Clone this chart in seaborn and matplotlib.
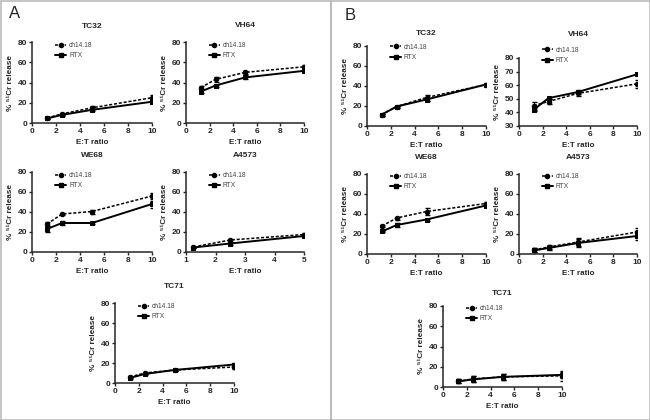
#51Cr release assays - ch14.18 vs RTX
import pandas as pd
import matplotlib.pyplot as plt
import seaborn as sns
from matplotlib.patches import Rectangle
from matplotlib.lines import Line2D

sns.set_style('ticks')
plt.rcParams['font.family'] = ['Liberation Sans', 'DejaVu Sans']

ratio = [1.25, 2.5, 5, 10]
ratio_short = [1.25, 2.5, 5]

# panel A
a_tc32_ch = [5, 9, 15, 25]
a_tc32_ch_err = [1, 1, 1.5, 3]
a_tc32_rtx = [4.5, 8, 13, 21]
a_tc32_rtx_err = [0.8, 0.8, 1, 1.5]
a_vh64_ch = [35, 43, 50, 55.5]
a_vh64_ch_err = [1.5, 2.5, 1.5, 1.5]
a_vh64_rtx = [31, 37, 45, 51.5]
a_vh64_rtx_err = [1.5, 1, 2, 1.5]
a_we68_ch = [28, 38, 40.5, 56]
a_we68_ch_err = [2, 1, 2, 3]
a_we68_rtx = [23, 29, 29, 48]
a_we68_rtx_err = [3, 2, 1, 3.5]
a_a4573_ch = [5, 12, 17.5]
a_a4573_ch_err = [0.5, 1.5, 1.5]
a_a4573_rtx = [4.5, 8.5, 16]
a_a4573_rtx_err = [0.5, 1.5, 1]
a_tc71_ch = [6, 10, 13, 16]
a_tc71_ch_err = [1, 1, 1, 2]
a_tc71_rtx = [5, 9, 13, 18.5]
a_tc71_rtx_err = [1, 1, 1, 1.5]

# panel B
b_tc32_ch = [11.5, 19.5, 28.5, 41.5]
b_tc32_ch_err = [1, 1, 3, 1.5]
b_tc32_rtx = [11.5, 19.5, 26.5, 41.5]
b_tc32_rtx_err = [1, 1, 1.5, 1]
b_vh64_ch = [45, 48, 54, 61]
b_vh64_ch_err = [3, 2, 2, 3]
b_vh64_rtx = [42, 50.5, 55, 68]
b_vh64_rtx_err = [1, 1, 1.5, 0.8]
b_we68_ch = [28, 36, 42.5, 50.5]
b_we68_ch_err = [1, 1.5, 3.5, 1.5]
b_we68_rtx = [22.5, 29, 34.5, 48.5]
b_we68_rtx_err = [0.8, 2, 1, 1]
b_a4573_ch = [4, 7, 12, 22]
b_a4573_ch_err = [2, 2, 4, 3.5]
b_a4573_rtx = [3.5, 6, 11, 18]
b_a4573_rtx_err = [2, 2, 4, 4]
b_tc71_ch = [5.5, 8, 10, 11]
b_tc71_ch_err = [2, 3, 3, 5]
b_tc71_rtx = [5.5, 7.5, 10, 12]
b_tc71_rtx_err = [2, 3, 3, 3]

W, H = 650, 420
fig = plt.figure(figsize=(6.5, 4.2), dpi=100)


def px_axes(x0, y0, x1, y1):
    return fig.add_axes([x0 / W, 1 - y1 / H, (x1 - x0) / W, (y1 - y0) / H])


def panel(box, title, xs, ch, ch_err, rtx, rtx_err, xlim, xticks, ylim, yticks,
          tdist=18, lift=0):
    ax = px_axes(*box)
    h = box[3] - box[1]
    df = pd.DataFrame({'ratio': xs + xs,
                       'release': ch + rtx,
                       'antibody': ['ch14.18'] * len(xs) + ['RTX'] * len(xs)})
    sns.lineplot(data=df[df.antibody == 'ch14.18'], x='ratio', y='release', ax=ax,
                 color='black', lw=1.1, dashes=(2, 1.2), marker='o', markersize=3.2,
                 markeredgecolor='black', legend=False)
    sns.lineplot(data=df[df.antibody == 'RTX'], x='ratio', y='release', ax=ax,
                 color='black', lw=1.4, marker='s', markersize=3.2,
                 markeredgecolor='black', legend=False)
    ax.errorbar(xs, ch, yerr=ch_err, fmt='none', ecolor='black', elinewidth=0.8, capsize=1.8)
    ax.errorbar(xs, rtx, yerr=rtx_err, fmt='none', ecolor='black', elinewidth=0.8, capsize=1.8)
    ax.set_xlim(*xlim)
    ax.set_ylim(*ylim)
    ax.set_xticks(xticks)
    ax.set_yticks(yticks)
    ax.set_xlabel('E:T ratio', fontsize=5.8, fontweight='bold', labelpad=3)
    ax.set_ylabel('% \u2075\u00b9Cr release', fontsize=5.9, fontweight='bold', labelpad=2.5)
    ax.set_title(title, fontsize=6, fontweight='bold', pad=(tdist - 3) * 0.72)
    ax.tick_params(labelsize=6, length=2.5, width=1, pad=1)
    for lab in ax.get_xticklabels() + ax.get_yticklabels():
        lab.set_fontweight('bold')
    for s in ['left', 'bottom']:
        ax.spines[s].set_linewidth(1.1)
    sns.despine(ax=ax)
    handles = [Line2D([], [], color='black', lw=1.1, dashes=(2, 1.2), marker='o', markersize=3),
               Line2D([], [], color='black', lw=1.4, marker='s', markersize=3)]
    leg = ax.legend(handles, ['ch14.18', 'RTX'], loc='upper left',
                    bbox_to_anchor=(0.165, 1 + (3.5 + lift) / h),
                    frameon=False, fontsize=4.8, handlelength=1.7, handletextpad=0.4,
                    labelspacing=0.5, borderpad=0)
    for t in leg.get_texts():
        t.set_color('#444444')
    return ax


x10 = [0, 2, 4, 6, 8, 10]
y80 = [0, 20, 40, 60, 80]

# panel A
panel((32, 42, 152, 123), 'TC32', ratio, a_tc32_ch, a_tc32_ch_err, a_tc32_rtx, a_tc32_rtx_err,
      (0, 10), x10, (0, 80), y80, tdist=17)
panel((186, 42, 304, 123), 'VH64', ratio, a_vh64_ch, a_vh64_ch_err, a_vh64_rtx, a_vh64_rtx_err,
      (0, 10), x10, (0, 80), y80)
panel((32, 172, 152, 252), 'WE68', ratio, a_we68_ch, a_we68_ch_err, a_we68_rtx, a_we68_rtx_err,
      (0, 10), x10, (0, 80), y80)
panel((186, 172, 304, 252), 'A4573', ratio_short, a_a4573_ch, a_a4573_ch_err, a_a4573_rtx,
      a_a4573_rtx_err, (1, 5), [1, 2, 3, 4, 5], (0, 80), y80)
panel((115, 303, 234, 383), 'TC71', ratio, a_tc71_ch, a_tc71_ch_err, a_tc71_rtx, a_tc71_rtx_err,
      (0, 10), x10, (0, 80), y80)

# panel B
panel((367, 46, 486, 126), 'TC32', ratio, b_tc32_ch, b_tc32_ch_err, b_tc32_rtx, b_tc32_rtx_err,
      (0, 10), x10, (0, 80), y80, tdist=14, lift=2)
panel((519, 58, 637, 126), 'VH64', ratio, b_vh64_ch, b_vh64_ch_err, b_vh64_rtx, b_vh64_rtx_err,
      (0, 10), x10, (30, 80), [30, 40, 50, 60, 70, 80], tdist=25, lift=11)
panel((367, 174, 486, 254), 'WE68', ratio, b_we68_ch, b_we68_ch_err, b_we68_rtx, b_we68_rtx_err,
      (0, 10), x10, (0, 80), y80, lift=1)
panel((519, 174, 637, 254), 'A4573', ratio, b_a4573_ch, b_a4573_ch_err, b_a4573_rtx,
      b_a4573_rtx_err, (0, 10), x10, (0, 80), y80, lift=1)
panel((443, 306, 562, 387), 'TC71', ratio, b_tc71_ch, b_tc71_ch_err, b_tc71_rtx, b_tc71_rtx_err,
      (0, 10), x10, (0, 80), y80, tdist=14, lift=1)

# panel letters and frames
fig.text(9 / W, 1 - 13 / H, 'A', fontsize=12, va='center')
fig.text(345 / W, 1 - 16 / H, 'B', fontsize=12, va='center')
for x0, x1 in [(0.5, 331), (331, 649.5)]:
    fig.patches.append(Rectangle((x0 / W, 0.5 / H), (x1 - x0) / W, (H - 1) / H,
                                 transform=fig.transFigure, fill=False,
                                 edgecolor='#bbbbbb', lw=1.2))

plt.savefig('out.png', dpi=100)
